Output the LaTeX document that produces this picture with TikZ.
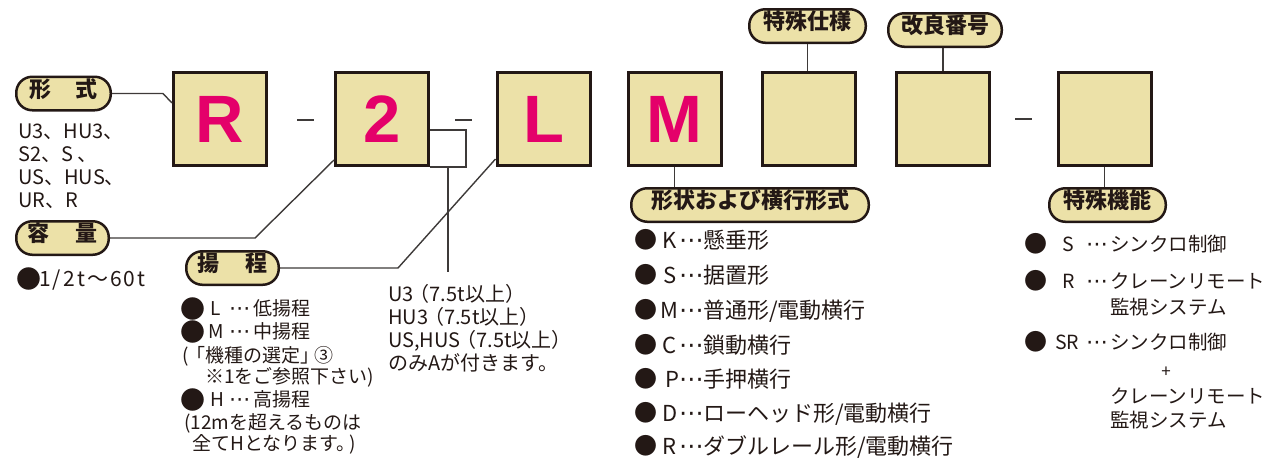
\documentclass[tikz,border=0pt]{standalone}
\usepackage{fontspec}
\setmainfont{Noto Sans CJK JP}
\newfontfamily\bigfont{Liberation Sans}
\newfontfamily\dvs{DejaVu Sans}
\definecolor{dk}{HTML}{231815}
\definecolor{ln}{HTML}{3E3A39}
\definecolor{tanc}{HTML}{ECE1A8}
\definecolor{pinkc}{HTML}{E4006A}
\newcommand\fs[1]{\fontsize{#1}{#1}\selectfont}
\newcommand\bul[2]{\raisebox{#2}{\fontsize{#1}{#1}\selectfont ●}}
\newcommand\dd{\scalebox{1.12}{\dvs ⋯}}
% bullet size, bullet box, letter, letter box, ellipsis box, bullet raise
\newcommand\itm[6]{\makebox[#2][l]{\bul{#1}{#6}}\makebox[#4][l]{#3}\makebox[#5][l]{\dd}}
\begin{document}
\begin{tikzpicture}[x=1pt,y=-1pt,
  box/.style={draw=dk, line width=3pt, fill=tanc, minimum size=93pt, inner sep=0pt,
    text=pinkc, font=\bigfont\bfseries\fs{67}},
  pill/.style={draw=dk, line width=2.5pt, fill=tanc, rounded corners=16pt,
    minimum height=33.5pt, inner sep=0pt, text=dk, font=\bfseries\fs{22},
    text height=0.88em, text depth=0.12em},
  conn/.style={draw=ln, line width=1.4pt},
  txt/.style={anchor=base west, inner sep=0pt, text=dk},
  lt/.style={txt, font=\fs{20}},
  yt/.style={txt, font=\fs{19}},
  kt/.style={txt, font=\fs{22}},
  tt/.style={txt, font=\fs{19.5}}]
\useasboundingbox (0,0) rectangle (1264,459);
% boxes
\node[box] (bR) at (220,119) {R};
\node[box] (b2) at (382,119) {2};
\node[box] (bL) at (543.5,119) {L};
\node[box] (bM) at (674.5,119) {M};
\node[box] (b1) at (808.5,119) {};
\node[box] (b2x) at (943,119) {};
\node[box] (b3) at (1104.5,119) {};
% dashes
\draw[conn] (297,120) -- (314,120);
\draw[conn] (455,120) -- (472,120);
\draw[conn] (1015,119) -- (1032,119);
% pills
\node[pill, minimum width=94.5pt] (shiki) at (63.5,93.5) {形\hspace{1.1em}式};
\node[pill, minimum width=92.5pt] (youryou) at (62.5,238) {容\hspace{1.2em}量};
\node[pill, minimum width=92.5pt] (youtei) at (232.5,268) {揚\hspace{1.2em}程};
\node[pill, minimum width=237.5pt] (keijou) at (750,205) {形状および横行形式};
\node[pill, minimum width=116.5pt] (kinou) at (1107.5,205) {特殊機能};
\node[pill, minimum width=116.5pt] (tokushu) at (807.5,26) {特殊仕様};
\node[pill, minimum width=113.5pt] (kairyo) at (945,30) {改良番号};
% connectors
\draw[conn] (shiki.east) -- ++(51,0) -- ([yshift=16pt]bR.west);
\draw[conn] (youryou.east) -- ++(145,0) -- ([yshift=7pt]b2.south west);
\draw[conn] (youtei.east) -- ++(118,0) -- ([yshift=8pt]bL.south west);
\coordinate (bk) at (466,167);
\coordinate (stem) at (448,272);
\draw[conn] ([yshift=-11pt]b2.east) -| (bk) -- (b2.south east);
\draw[conn] (stem |- bk) -- (stem);
\draw[conn] (bM.south) -- (bM.south |- keijou.north);
\draw[conn] (tokushu.south) -- (tokushu.south |- b1.north);
\draw[conn] (b2x.north) -- (b2x.north |- kairyo.south);
\draw[conn] (b3.south) -- (b3.south |- kinou.north);
% left block
\node[lt] (f1) at (18,138) {U3、HU3、};
\node[lt] (f2) at (18,161) {S2、S 、};
\node[lt] (f3) at (18,184) {US、HUS、};
\node[lt] (f4) at (18,207) {UR、R};
\node[txt, font=\fs{21}] (c1) at (16,286) {\makebox[23pt][l]{\bul{25}{-2pt}}{\addfontfeature{LetterSpace=10}1/2t〜60t}};
% youtei block
\node[yt] (y1) at (180,315) {\itm{25}{30pt}{L}{19pt}{24pt}{-3.5pt}低揚程};
\node[yt] (y2) at (180,338) {\itm{25}{28pt}{M}{21pt}{24pt}{-3.5pt}中揚程};
\node[yt] (y3) at (182,362) {(\kern-2pt「機種の選定」\kern-5pt③};
\node[yt] (y4) at (205,383) {※1をご参照下さい)};
\node[yt] (y5) at (180,406) {\itm{25}{30pt}{H}{19pt}{24pt}{-3.5pt}高揚程};
\node[yt] (y6) at (184,429) {(12mを超えるものは};
\node[yt] (y7) at (192,450) {全てHとなります。\kern-6pt)};
% U3 block
\node[lt] (u1) at (388,301) {U3\kern-4pt（7.5t以上）};
\node[lt] (u2) at (388,324) {HU3\kern-4pt（7.5t以上）};
\node[lt] (u3) at (388,347) {US,HUS\kern-4pt（7.5t以上）};
\node[lt] (u4) at (388,370) {のみAが付きます。};
% keijou list
\node[kt] (k1) at (634,248) {\itm{23}{28pt}{K}{17pt}{24pt}{0pt}懸垂形};
\node[kt] (k2) at (634,283) {\itm{23}{29pt}{S}{16pt}{24pt}{0pt}据置形};
\node[kt] (k3) at (634,318) {\itm{23}{26pt}{M}{19pt}{24pt}{0pt}普通形/電動横行};
\node[kt] (k4) at (634,353) {\itm{23}{28pt}{C}{17pt}{24pt}{0pt}鎖動横行};
\node[kt] (k5) at (634,387) {\itm{23}{31pt}{P}{14pt}{24pt}{0pt}手押横行};
\node[kt] (k6) at (634,421) {\itm{23}{28pt}{D}{17pt}{24pt}{0pt}ローヘッド形/電動横行};
\node[kt] (k7) at (634,454) {\itm{23}{28pt}{R}{17pt}{24pt}{0pt}ダブルレール形/電動横行};
% kinou list
\node[tt] (t1) at (1024,251) {\itm{23}{38pt}{S}{24pt}{24pt}{-1pt}シンクロ制御};
\node[tt] (t2) at (1024,288) {\itm{23}{38pt}{R}{24pt}{24pt}{-1pt}クレーンリモート};
\node[tt] (t3) at (1110,314) {監視システム};
\node[tt] (t4) at (1024,349) {\itm{23}{31pt}{SR}{31pt}{24pt}{-1pt}シンクロ制御};
\node[inner sep=0pt, text=dk, font=\fs{17}] (t5) at (1166,372) {+};
\node[tt] (t6) at (1110,403) {クレーンリモート};
\node[tt] (t7) at (1110,427) {監視システム};
\end{tikzpicture}
\end{document}
